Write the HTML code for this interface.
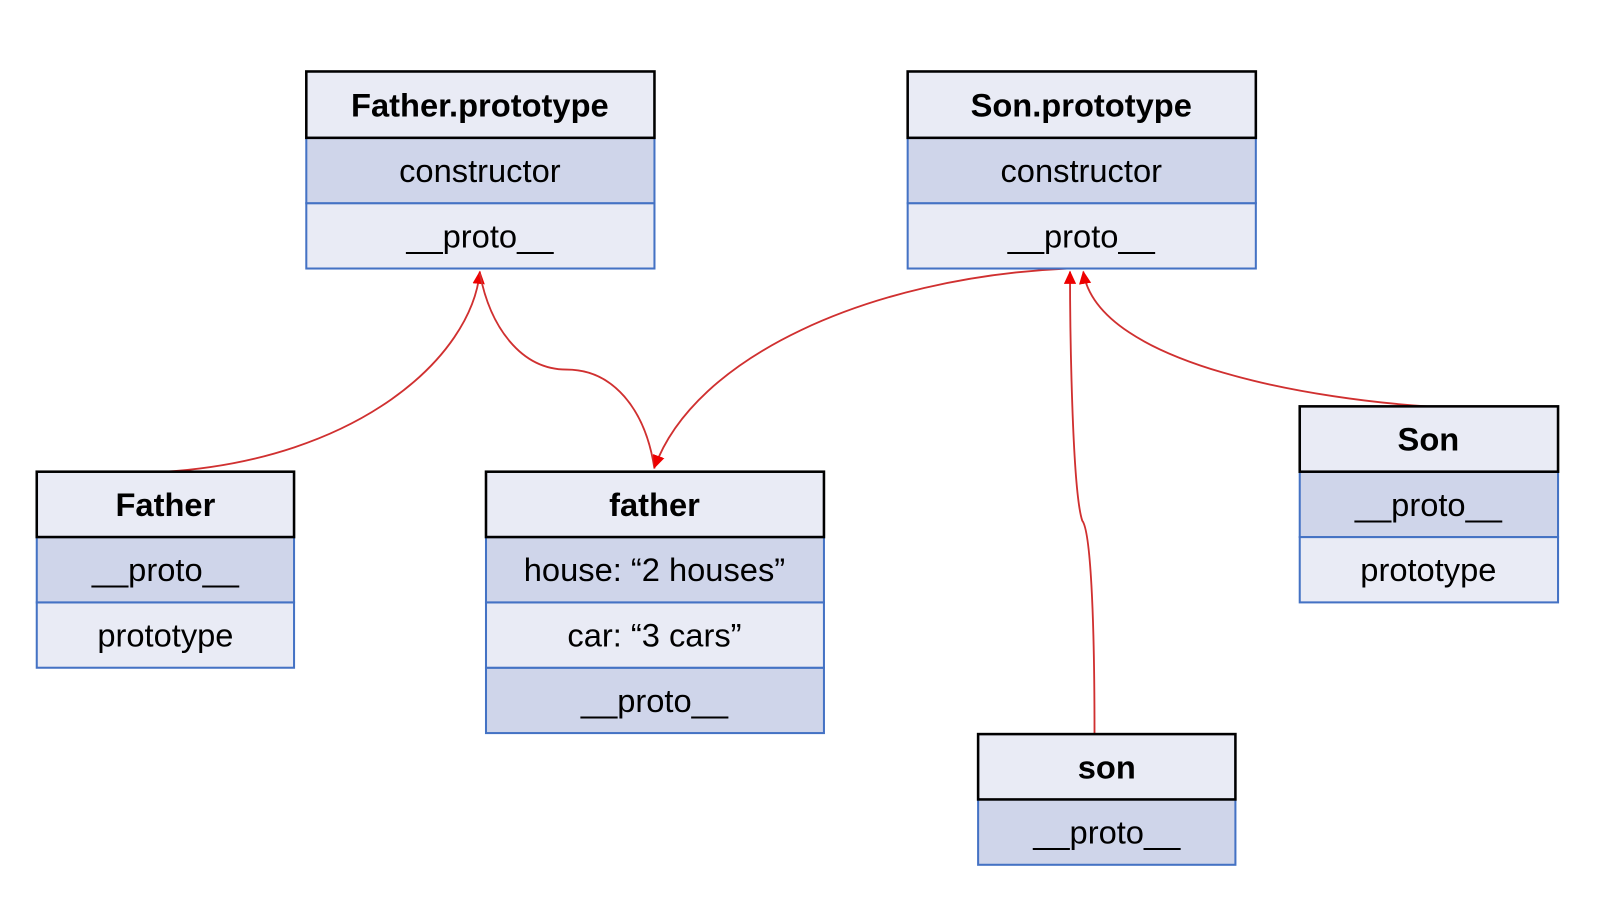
<!DOCTYPE html>
<html><head><meta charset="utf-8"><style>
html,body{margin:0;padding:0;background:#fff;}
svg{display:block;}
text{font-family:"Liberation Sans",sans-serif;font-size:32px;fill:#000;text-anchor:middle;dominant-baseline:central;}
.b{font-weight:bold;}
.h{fill:#e9ebf5;stroke:#000;stroke-width:2.5;}
.d{fill:#cfd5ea;stroke:#4472c4;stroke-width:2;}
.l{fill:#e9ebf5;stroke:#4472c4;stroke-width:2;}
.c{fill:none;stroke:#d03030;stroke-width:1.8;}
</style></head><body>
<svg width="1600" height="919" viewBox="0 0 1600 919" xmlns="http://www.w3.org/2000/svg">
<defs>
<marker id="a" markerWidth="14" markerHeight="14" refX="12" refY="7" orient="auto" markerUnits="userSpaceOnUse">
<path d="M0,1 L13,7 L0,13 z" fill="#e00"/>
</marker>
</defs>
<g transform="scale(1.021)">
<path class="c" d="M162,462 C350,450 462,350 470,266" marker-end="url(#a)"/>
<path class="c" d="M470,268 C480,320 510,362 555,362 C600,362 632,400 641,459" />
<path class="c" d="M1045,263 C850,272 680,350 641,458" marker-end="url(#a)"/>
<path class="c" d="M1072,719 C1072,600 1068,520 1060,510 C1050,480 1048,320 1048,266" marker-end="url(#a)"/>
<path class="c" d="M1398,398 C1300,392 1075,360 1061,266" marker-end="url(#a)"/>

<rect class="l" x="300" y="199" width="341" height="64"/>
<rect class="d" x="300" y="135" width="341" height="64"/>
<rect class="h" x="300" y="70" width="341" height="65"/>
<text class="b" x="470" y="103">Father.prototype</text>
<text x="470" y="167">constructor</text>
<text x="470" y="231">__proto__</text>

<rect class="l" x="889" y="199" width="341" height="64"/>
<rect class="d" x="889" y="135" width="341" height="64"/>
<rect class="h" x="889" y="70" width="341" height="65"/>
<text class="b" x="1059" y="103">Son.prototype</text>
<text x="1059" y="167">constructor</text>
<text x="1059" y="231">__proto__</text>

<rect class="l" x="36" y="590" width="252" height="64"/>
<rect class="d" x="36" y="526" width="252" height="64"/>
<rect class="h" x="36" y="462" width="252" height="64"/>
<text class="b" x="162" y="494">Father</text>
<text x="162" y="558">__proto__</text>
<text x="162" y="622">prototype</text>

<rect class="d" x="476" y="654" width="331" height="64"/>
<rect class="l" x="476" y="590" width="331" height="64"/>
<rect class="d" x="476" y="526" width="331" height="64"/>
<rect class="h" x="476" y="462" width="331" height="64"/>
<text class="b" x="641" y="494">father</text>
<text x="641" y="558">house: “2 houses”</text>
<text x="641" y="622">car: “3 cars”</text>
<text x="641" y="686">__proto__</text>

<rect class="l" x="1273" y="526" width="253" height="64"/>
<rect class="d" x="1273" y="462" width="253" height="64"/>
<rect class="h" x="1273" y="398" width="253" height="64"/>
<text class="b" x="1399" y="430">Son</text>
<text x="1399" y="494">__proto__</text>
<text x="1399" y="558">prototype</text>

<rect class="d" x="958" y="783" width="252" height="64"/>
<rect class="h" x="958" y="719" width="252" height="64"/>
<text class="b" x="1084" y="751">son</text>
<text x="1084" y="815">__proto__</text>
</g>
</svg>
</body></html>
